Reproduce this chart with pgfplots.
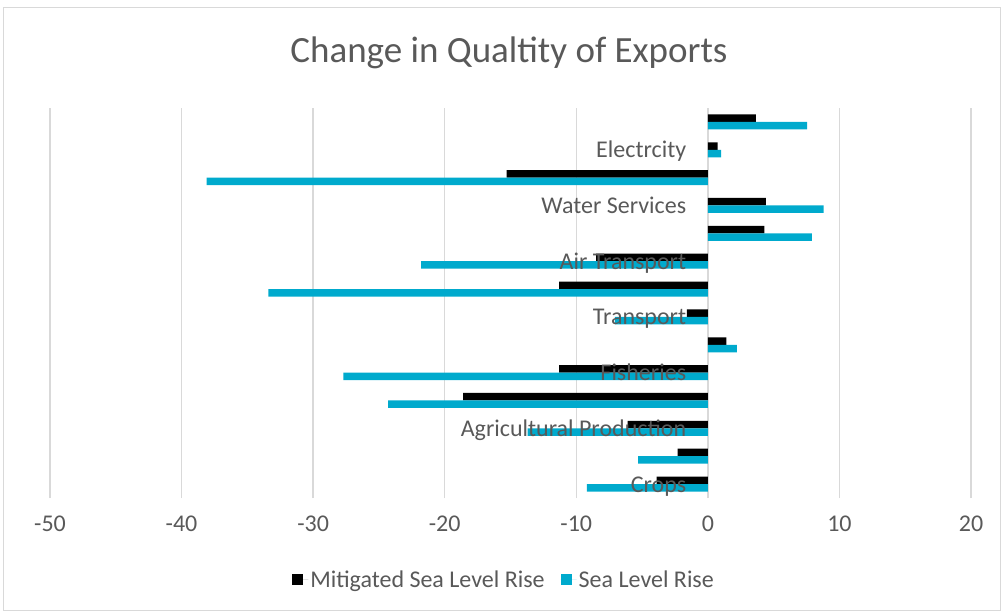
\documentclass[border=0pt]{standalone}
\usepackage{pgfplots}
\pgfplotsset{compat=1.18}
\usepackage{fontspec}
\setmainfont{Carlito}
\definecolor{txt}{RGB}{89,89,89}
\definecolor{slr}{RGB}{0,170,205}
\definecolor{grd}{RGB}{217,217,217}
\begin{document}
\begin{tikzpicture}[x=1pt,y=1pt]
\path[use as bounding box] (0,0) rectangle (1003,613);
\draw[grd, line width=1pt] (3,3) rectangle (1000,605);
\node[txt, font=\fontsize{37}{44}\selectfont] at (509,560) {Change in Qualtity of Exports};
\begin{axis}[at={(50pt,115pt)}, anchor=south west, scale only axis,
 width=921pt, height=390pt,
 xmin=-50, xmax=20, ymin=0.5, ymax=14.5,
 xtick={-50,-40,...,20}, ytick=\empty,
 xmajorgrids, major grid style={grd, line width=1.3pt},
 axis line style={draw=none}, x tick style={draw=none},
 tick label style={txt, font=\fontsize{24}{28}\selectfont},
 xticklabel style={yshift=-14pt},
 /pgf/number format/assume math mode=true,
 xbar, bar width=7.5pt,
 legend columns=2,
 legend style={at={(0.493,-0.21)}, anchor=center, draw=none, fill=none,
   font=\fontsize{24}{28}\selectfont, text=txt,
   /tikz/every even column/.append style={column sep=14pt}},
 legend image code/.code={\path[#1,draw=none] (0pt,-5.5pt) rectangle (11pt,5.5pt); \path (0pt,0pt) -- (16pt,0pt);},
 clip=false,
]
\addplot[fill=black, draw=none, bar shift=3.75pt] coordinates {
(-3.9,1) (-2.3,2) (-6.1,3) (-18.6,4) (-11.3,5) (1.4,6) (-1.6,7)
(-11.3,8) (-8.5,9) (4.3,10) (4.4,11) (-15.3,12) (0.75,13) (3.65,14)};
\addlegendentry{Mitigated Sea Level Rise}
\addplot[fill=slr, draw=none, bar shift=-3.75pt] coordinates {
(-9.2,1) (-5.3,2) (-13.7,3) (-24.3,4) (-27.7,5) (2.2,6) (-7.06,7)
(-33.4,8) (-21.8,9) (7.9,10) (8.8,11) (-38.1,12) (1.0,13) (7.55,14)};
\addlegendentry{Sea Level Rise}
\foreach \k/\lab in {1/Crops,3/Agricultural Production,5/Fisheries,7/Transport,9/Air Transport,11/Water Services,13/Electrcity}{
  \edef\tmp{\noexpand\node[txt, anchor=base east, inner sep=0pt, xshift=-21.5pt, yshift=-8pt, font=\noexpand\fontsize{24}{28}\noexpand\selectfont] at (axis cs:0,\k) {\lab};}
  \tmp
}
\end{axis}
\end{tikzpicture}
\end{document}
